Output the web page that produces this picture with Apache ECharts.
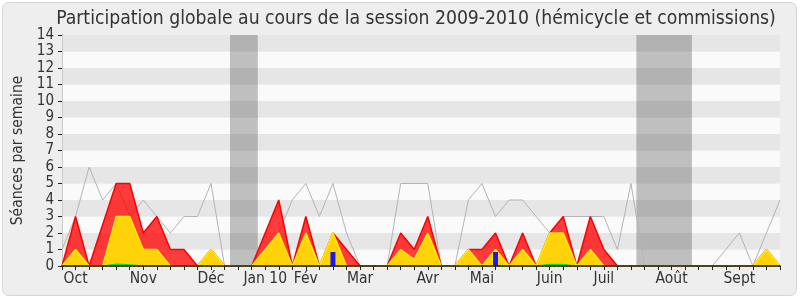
<!DOCTYPE html>
<html><head><meta charset="utf-8">
<script src="https://cdn.jsdelivr.net/npm/echarts@6/dist/echarts.min.js"></script>
<style>html,body{margin:0;padding:0;background:#fff}#c{width:800px;height:300px}</style>
</head><body><div id="c"></div>
<script>
// weekly values, week index 0..53
const presenceTotal = [0,3,0,2.5,5,5,2,3,1,1,0,1,0,0,0,2,4,0,3,0,2,1,0,0,0,2,1,3,0,0,1,1,2,0,2,0,2,3,0,3,1,0,0,0,0,0,0,0,0,0,0,0,1,0];
const presenceHemicycle = [0,1,0,0,3,3,1,1,0,0,0,1,0,0,0,1,2,0,2,0,2,0,0,0,0,1,0.4,2,0,0,1,0,1,0,1,0,2,2,0,1,0,0,0,0,0,0,0,0,0,0,0,0,1,0];
const interventions = [0,0,0,0,0.12,0.08,0,0,0,0,0,0,0,0,0,0,0,0,0,0,0,0,0,0,0,0,0,0,0,0,0,0,0,0,0,0,0.1,0.1,0,0,0,0,0,0,0,0,0,0,0,0,0,0,0,0];
const mediane = [1,3,6,4,5,3,4,3,2,3,3,5,0,0,0,0,2,4,5,3,5,2,0,0,0,5,5,5,0,0,4,5,3,4,4,3,2,3,3,3,3,1,5,0,0,0,0,0,0,1,2,0,2,4];
const questionWeeks = [20,32];
const questionValues = [0.85,0.85];
const monthLabels = ['Oct','Nov','Déc','Jan 10','Fév','Mar','Avr','Mai','Juin','Juil','Août','Sept'];
const monthWeeks = [1,6,11,15,18,22,27,31,36,40,45,50];
const vacStart = [12.4,42.4];
const vacEnd = [14.45,46.5];

const FONT = 'DejaVu Sans Condensed, DejaVu Sans';
const pairs = arr => arr.map((v,i)=>[i,v]);
const chart = echarts.init(document.getElementById('c'));
chart.setOption({
  animation:false,
  backgroundColor:'#ffffff',
  graphic:[{type:'rect',shape:{x:2.5,y:2.5,width:794,height:293,r:6},style:{fill:'#eeeeee',stroke:'#d6d6d6',lineWidth:1},z:-10,silent:true}],
  title:{text:'Participation globale au cours de la session 2009-2010 (hémicycle et commissions)',left:411,top:5,textAlign:'center',
    textStyle:{fontFamily:FONT,fontSize:19.2,fontWeight:'normal',color:'#333'}},
  grid:{left:62,right:20,top:35,bottom:34},
  xAxis:[{type:'value',min:0,max:53,interval:1,z:10,
    axisLine:{lineStyle:{color:'#2a2020',width:1.5}},
    axisTick:{show:true,length:4,lineStyle:{color:'#222'}},
    axisLabel:{margin:5,fontFamily:FONT,fontSize:15.5,color:'#333',showMinLabel:true,showMaxLabel:true,
      formatter:v=>{const k=monthWeeks.indexOf(v);return k>=0?monthLabels[k]:'';}},
    splitLine:{show:false}},
   {type:'value',min:0,max:53,position:'top',axisLine:{show:true,lineStyle:{color:'#555',type:[1,3]}},
    axisTick:{show:false},axisLabel:{show:false},splitLine:{show:false}}],
  yAxis:[{type:'value',min:0,max:14,interval:1,
    name:'Séances par semaine',nameLocation:'middle',nameGap:36,nameRotate:90,
    nameTextStyle:{fontFamily:FONT,fontSize:15.5,color:'#333'},
    axisLine:{show:true,lineStyle:{color:'#222'}},
    axisTick:{show:true,length:4,lineStyle:{color:'#222'}},
    axisLabel:{margin:8,fontFamily:FONT,fontSize:15,color:'#333'},
    splitLine:{show:false},
    splitArea:{show:true,areaStyle:{color:['#fafafa','#e6e6e6']}}},
   {type:'value',min:0,max:14,interval:1,position:'right',axisLine:{show:true,lineStyle:{color:'#cccccc'}},
    axisTick:{show:false},axisLabel:{show:false},splitLine:{show:false}}],
  series:[
    {type:'line',data:pairs(mediane),symbol:'none',lineStyle:{color:'#b4b4b4',width:1},z:1,
      markArea:{silent:true,itemStyle:{color:'rgba(80,80,80,0.35)'},
        data:vacStart.map((s,k)=>[{xAxis:s},{xAxis:vacEnd[k]}])}},
    {type:'line',data:pairs(presenceTotal),symbol:'none',lineStyle:{color:'#ff0000',width:1.5},
      areaStyle:{color:'rgba(255,0,0,0.76)',opacity:1},z:2},
    {type:'line',data:pairs(presenceHemicycle),symbol:'none',lineStyle:{color:'#ffee00',width:1.5},
      areaStyle:{color:'#ffd20a',opacity:1},z:3},
    {type:'line',data:pairs(interventions),symbol:'none',lineStyle:{color:'#00dd00',width:1},
      areaStyle:{color:'#00ee00',opacity:1},z:4},
    {type:'bar',data:questionWeeks.map((w,k)=>[w,questionValues[k]]),barWidth:5,itemStyle:{color:'#1a1aee'},z:5}
  ]
});
</script></body></html>
